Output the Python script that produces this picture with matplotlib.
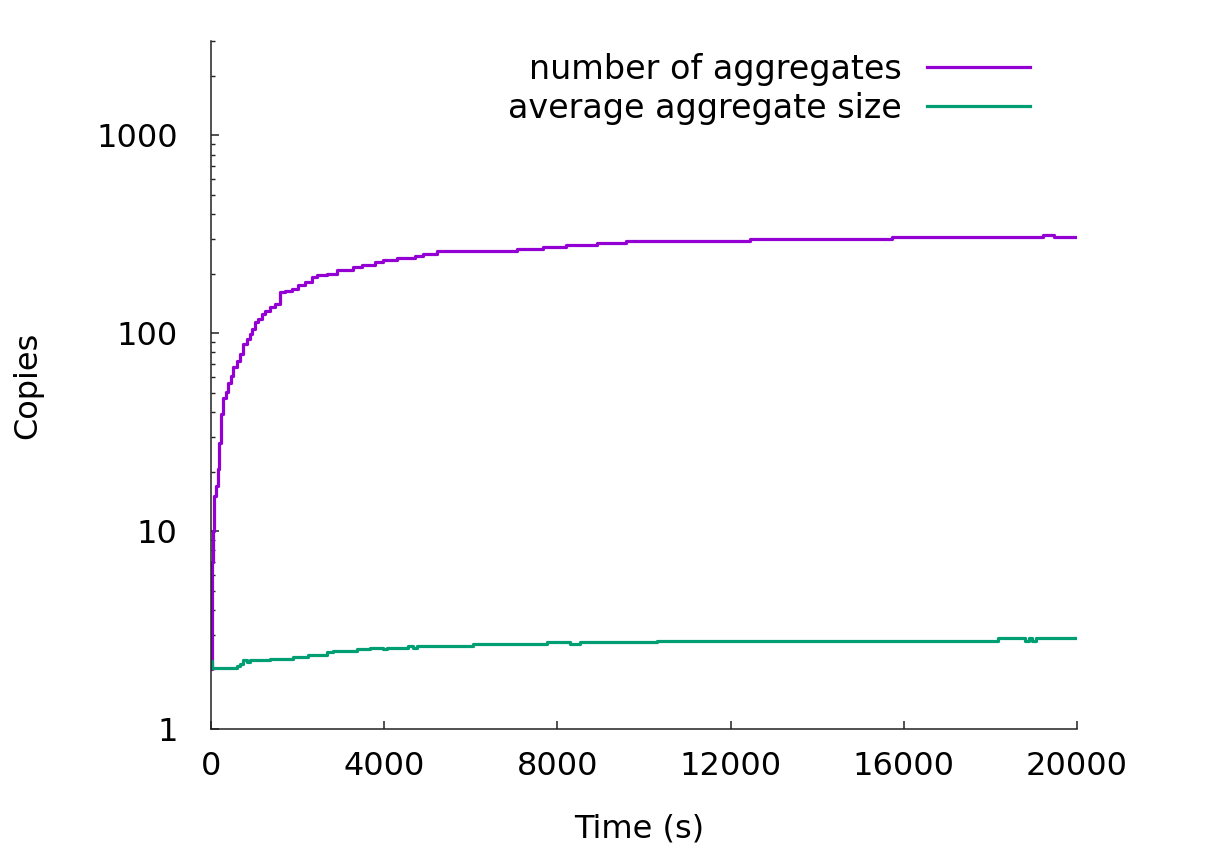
#!/usr/bin/env python3
"""
Aggregation run: number of aggregates and average aggregate size vs time,
log y axis, gnuplot-like look.
"""
import matplotlib
matplotlib.use("Agg")
import matplotlib.pyplot as plt
from matplotlib.ticker import LogLocator, NullFormatter

# number of aggregates
t_num = [0, 15, 30, 45, 60, 108, 154, 192, 231, 285,
         346, 400, 454, 516, 593, 670, 747, 824, 900, 939,
         1016, 1093, 1170, 1247, 1362, 1478, 1593, 1709, 1863, 2016,
         2170, 2324, 2440, 2671, 2902, 3286, 3479, 3787, 3979, 4287,
         4710, 4903, 5211, 5711, 7070, 7660, 8200, 8910, 9580, 12450,
         15730, 19210, 19470, 20000]
n_num = [2, 4, 7, 10, 15, 16.9, 20.5, 27.8, 39, 46.9,
         50.7, 56, 61, 67.4, 72.7, 78.7, 88.4, 93.7, 99.3, 105,
         114, 118, 125, 130, 136, 141, 161, 163, 168, 175,
         182, 192, 196, 200, 210, 216, 222, 229, 234, 241,
         246, 253, 259, 262, 268, 274, 280, 285, 292, 299,
         305, 313, 305, 305]

# average aggregate size
t_size = [0, 20, 515, 593, 670, 746, 823, 900, 1362, 1901, 2247, 2670,
          2825, 3364, 3672, 3980, 4060, 4556, 4660, 4760, 6057, 7750,
          8300, 8530, 10300, 18180, 18800, 18890, 18950, 19050, 20000]
n_size = [2.2, 2.03, 2.03, 2.08, 2.13, 2.24, 2.18, 2.24, 2.26, 2.32, 2.37,
          2.44, 2.48, 2.53, 2.58, 2.53, 2.58, 2.64, 2.58, 2.64, 2.70, 2.76,
          2.70, 2.76, 2.80, 2.88, 2.79, 2.88, 2.79, 2.88, 2.88]

x_ticks = [0, 4000, 8000, 12000, 16000, 20000]
y_ticks = [1, 10, 100, 1000]

plt.rcParams['font.family'] = ['DejaVu Sans']

fig = plt.figure(figsize=(12.16, 8.51), dpi=100)
ax = fig.add_axes([211 / 1216, 1 - 729 / 851, 866 / 1216, 688 / 851])

ax.plot(t_num, n_num, drawstyle='steps-post', color='#9400D3', lw=2.3,
        label='number of aggregates')
ax.plot(t_size, n_size, drawstyle='steps-post', color='#009E73', lw=2.3,
        label='average aggregate size')

ax.set_yscale('log')
ax.set_xlim(0, 20000)
ax.set_ylim(1, 3000)
ax.set_xticks(x_ticks)
ax.set_xticklabels([str(v) for v in x_ticks])
ax.set_yticks(y_ticks)
ax.set_yticklabels([str(v) for v in y_ticks])
ax.yaxis.set_minor_locator(LogLocator(base=10, subs=range(2, 10)))
ax.yaxis.set_minor_formatter(NullFormatter())

for side in ('top', 'right'):
    ax.spines[side].set_visible(False)
for side in ('left', 'bottom'):
    ax.spines[side].set_linewidth(1.1)
    ax.spines[side].set_color('#222222')

ax.tick_params(which='major', direction='in', length=5.8, width=1.1,
               color='#222222', labelsize=23)
ax.tick_params(which='minor', direction='in', length=2.9, width=1.0,
               color='#222222')
ax.tick_params(axis='y', which='major', pad=24)
ax.tick_params(axis='x', which='major', pad=16)

ax.set_xlabel('Time (s)', fontsize=23)
ax.set_ylabel('Copies', fontsize=23)
ax.xaxis.set_label_coords(0.494, -0.1224)
ax.yaxis.set_label_coords(-0.194, 0.5)

ax.legend(loc='upper right', bbox_to_anchor=(1030 / 1216, 1 - 53 / 851),
          bbox_transform=fig.transFigure, frameon=False, markerfirst=False,
          fontsize=24, handlelength=3.1, handletextpad=0.75,
          labelspacing=0.17, borderpad=0, borderaxespad=0)

fig.savefig('out.png', dpi=100)
